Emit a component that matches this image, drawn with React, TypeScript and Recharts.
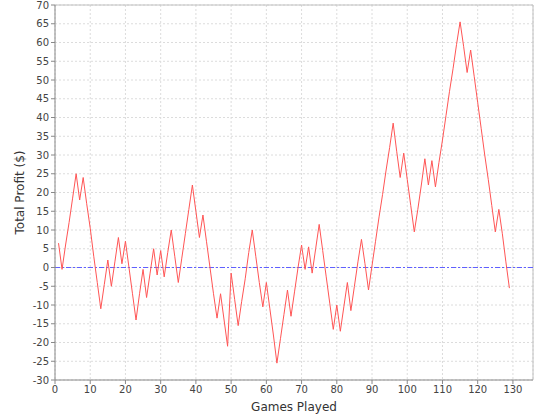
import { LineChart, Line, XAxis, YAxis, CartesianGrid, ReferenceLine } from 'recharts'

// Total profit after each game (games 1..129)
const profit = [
  6.5, -0.5, 6, 12, 18.5, 25, 18, 24, 17, 10.5,
  3, -4, -11, -4.5, 2, -5, 1.5, 8, 1, 7,
  0, -7, -14, -7, -0.5, -8, -1.5, 5, -2, 4.5,
  -2.5, 4, 10, 3, -4, 2.5, 9, 15.5, 22, 15,
  8, 14, 7, 0, -7, -13.5, -7, -14, -21, -1.5,
  -8.5, -15.5, -9, -3, 4, 10, 3, -4, -10.5, -4,
  -11, -18, -25.5, -19, -12.5, -6, -13, -6.5, 0, 6,
  -0.5, 5.5, -1.5, 5, 11.5, 4.5, -2.5, -9.5, -16.5, -10,
  -17, -10.5, -4, -11.5, -5, 1.5, 7.5, 1, -6, 0.5,
  7, 13.5, 19.5, 26, 32, 38.5, 31, 24, 30.5, 23.5,
  16.5, 9.5, 15.5, 22, 29, 22, 28.5, 21.5, 28, 34,
  40.5, 47, 53, 59.5, 65.5, 59, 52, 58, 51, 44,
  37, 30, 23.5, 16.5, 9.5, 15.5, 9, 1.5, -5.5,
]

const xTicks = [0, 10, 20, 30, 40, 50, 60, 70, 80, 90, 100, 110, 120, 130]
const yTicks = [-30, -25, -20, -15, -10, -5, 0, 5, 10, 15, 20, 25, 30, 35, 40, 45, 50, 55, 60, 65, 70]
const X_MAX = 135.7

const data = profit.map((p, i) => ({ game: i + 1, profit: p }))

const tickStyle = { fontSize: 10, fill: '#444', fontFamily: 'DejaVu Sans' }
const labelStyle = { fontSize: 12, fill: '#333', fontFamily: 'DejaVu Sans' }

export default function App() {
  return (
    <div style={{ position: 'absolute', left: 0, top: 0, width: 540, height: 420, background: '#fff' }}>
      <LineChart width={540} height={420} data={data} margin={{ top: 5, right: 7, bottom: 0, left: 0 }}>
        <CartesianGrid stroke="#dcdcdc" strokeDasharray="2 2" />
        <XAxis
          dataKey="game"
          type="number"
          domain={[0, X_MAX]}
          ticks={xTicks}
          height={40}
          tick={tickStyle}
          tickSize={4}
          stroke="#888"
          label={{ value: 'Games Played', position: 'insideBottom', offset: 9, style: labelStyle }}
        />
        <YAxis
          type="number"
          domain={[-30, 70]}
          ticks={yTicks}
          interval={0}
          width={55}
          tick={tickStyle}
          tickSize={4}
          stroke="#888"
          label={{ value: 'Total Profit ($)', angle: -90, position: 'insideLeft', offset: 20, style: { ...labelStyle, textAnchor: 'middle' } }}
        />
        <ReferenceLine y={70} stroke="#c0c0c0" />
        <ReferenceLine x={X_MAX} stroke="#c0c0c0" />
        <ReferenceLine
          y={0}
          stroke="#6060ff"
          strokeWidth={1}
          strokeDasharray="5 2 2 2"
          style={{ stroke: '#6060ff' }}
        />
        <Line
          type="linear"
          dataKey="profit"
          stroke="#ff5555"
          strokeWidth={1}
          dot={false}
          isAnimationActive={false}
        />
      </LineChart>
    </div>
  )
}
